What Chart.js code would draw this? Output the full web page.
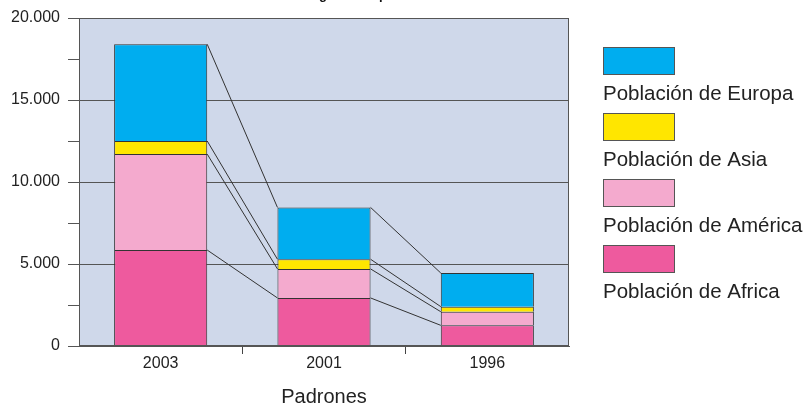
<!DOCTYPE html>
<html><head><meta charset="utf-8">
<script src="https://cdn.jsdelivr.net/npm/chart.js@4"></script>
<style>html,body{margin:0;padding:0;background:#fff}canvas{display:block}</style>
</head><body>
<canvas id="c" width="811" height="405"></canvas>
<script>
const categories = ['2003', '2001', '1996'];
const seriesNames = ['Población de Africa', 'Población de América', 'Población de Asia', 'Población de Europa'];
const africa  = [5850, 2930, 1260];
const america = [5850, 1770, 830];
const asia    = [800, 590, 310];
const europa  = [5900, 3160, 2050];
const yMax = 20000;
const yMinorStep = 2500;
const yLabelStep = 5000;
const titleText = 'Origen de la población';
const xTitle = 'Padrones';

const seriesValues = [africa, america, asia, europa];
const colors = ['#ee5a9e', '#f4aace', '#ffe600', '#00adef'];
const FONT = "'Liberation Sans', Arial, sans-serif";

function fmt(v) { return String(v).replace(/\B(?=(\d{3})+(?!\d))/g, '.'); }
function innerTick(c) {
  return c.type === 'tick' && typeof c.index === 'number' && c.index > 0 && c.index < categories.length;
}

const deco = {
  id: 'deco',
  beforeDraw(chart) {
    const {ctx, chartArea: a} = chart;
    ctx.save();
    ctx.fillStyle = '#ffffff';
    ctx.fillRect(0, 0, chart.width, chart.height);
    ctx.fillStyle = '#cfd8ea';
    ctx.fillRect(a.left, a.top, a.right - a.left, a.bottom - a.top);
    ctx.restore();
  },
  afterDatasetsDraw(chart) {
    const {ctx, chartArea: a} = chart;
    ctx.save();
    ctx.strokeStyle = '#333';
    ctx.lineWidth = 1;
    chart.getSortedVisibleDatasetMetas().forEach(meta => {
      const pts = meta.data;
      for (let j = 0; j < pts.length - 1; j++) {
        const p = pts[j], q = pts[j + 1];
        ctx.beginPath();
        ctx.moveTo(p.x + p.width / 2, p.y);
        ctx.lineTo(q.x - q.width / 2, q.y);
        ctx.stroke();
      }
    });
    ctx.strokeStyle = '#555';
    const l = Math.round(a.left) + 0.5, t = Math.round(a.top) + 0.5;
    const r = Math.round(a.right) - 0.5, b = Math.round(a.bottom) - 0.5;
    ctx.strokeRect(l, t, r - l, b - t);
    ctx.restore();
  },
  afterDraw(chart) {
    const {ctx} = chart;
    ctx.save();
    const ds = chart.data.datasets;
    ctx.font = '20.5px ' + FONT;
    ctx.textAlign = 'left';
    ctx.textBaseline = 'alphabetic';
    for (let k = 0; k < ds.length; k++) {
      const d = ds[ds.length - 1 - k];
      const top = 47 + k * 66;
      ctx.fillStyle = d.backgroundColor;
      ctx.fillRect(603, top, 72, 28);
      ctx.strokeStyle = '#555';
      ctx.lineWidth = 1;
      ctx.strokeRect(603.5, top + 0.5, 71, 27);
      ctx.fillStyle = '#222';
      ctx.fillText(d.label, 603, top + 53);
    }
    ctx.font = 'bold 13px ' + FONT;
    const pre = ctx.measureText('Ori').width + ctx.measureText('g').width / 2;
    ctx.fillStyle = '#111';
    ctx.fillText(titleText, 323 - pre, -1);
    ctx.restore();
  }
};

new Chart(document.getElementById('c'), {
  type: 'bar',
  data: {
    labels: categories,
    datasets: seriesNames.map((n, i) => ({
      label: n,
      data: seriesValues[i],
      backgroundColor: colors[i],
      borderColor: '#333',
      borderWidth: 1,
      categoryPercentage: 1,
      barPercentage: 0.57
    }))
  },
  options: {
    responsive: false,
    animation: false,
    layout: { padding: { left: 0, right: 242, top: 18, bottom: 0 } },
    plugins: { legend: { display: false }, tooltip: { enabled: false }, title: { display: false } },
    scales: {
      x: {
        stacked: true,
        offset: true,
        afterFit(s) { s.height = 59; },
        grid: {
          offset: true,
          drawOnChartArea: false,
          tickLength: 8,
          color: c => innerTick(c) ? '#444' : 'rgba(0,0,0,0)',
          tickColor: c => innerTick(c) ? '#444' : 'rgba(0,0,0,0)'
        },
        border: { display: true, color: '#555' },
        ticks: { color: '#222', font: { family: FONT, size: 16 }, padding: 0 },
        title: { display: true, text: xTitle, color: '#222', font: { family: FONT, size: 20, lineHeight: 1 }, padding: { top: 0, bottom: -2 } }
      },
      y: {
        stacked: true,
        min: 0,
        max: yMax,
        afterFit(s) { s.width = 79; },
        grid: {
          tickLength: 11,
          color: c => (c.tick && c.tick.value % yLabelStep === 0) ? '#555' : 'rgba(0,0,0,0)',
          tickColor: '#555'
        },
        border: { display: true, color: '#555' },
        ticks: {
          stepSize: yMinorStep,
          color: '#222',
          padding: 8,
          font: { family: FONT, size: 16 },
          callback: v => (v % yLabelStep === 0) ? fmt(v) : ''
        }
      }
    }
  },
  plugins: [deco]
});
</script>
</body></html>
